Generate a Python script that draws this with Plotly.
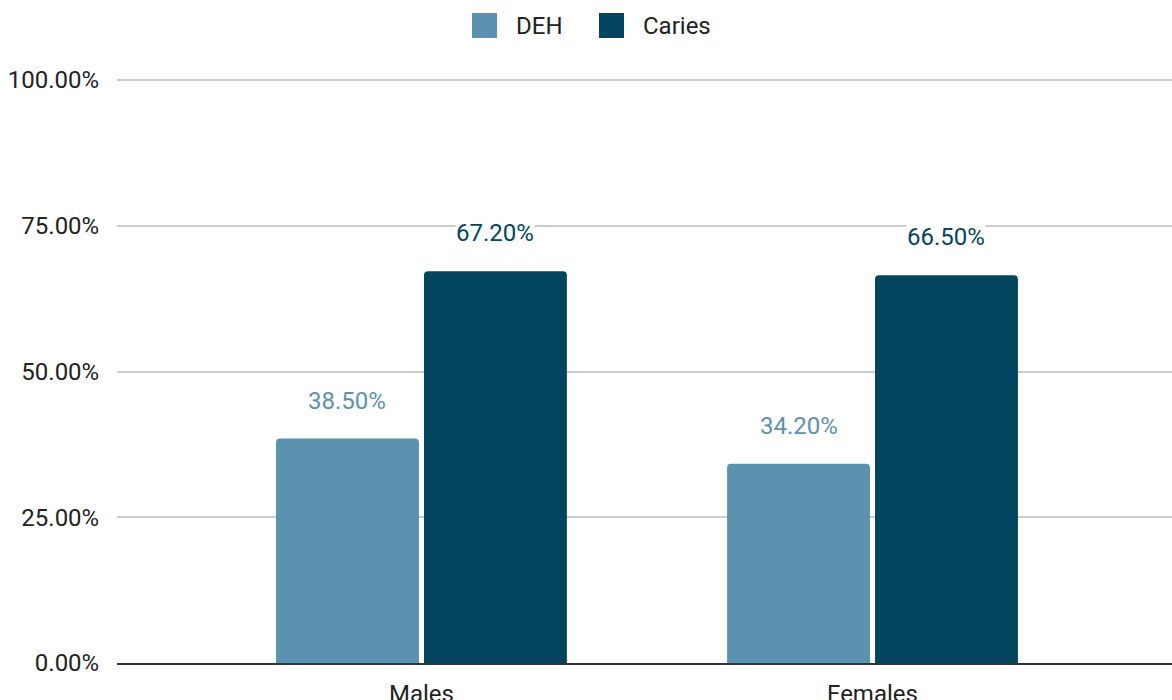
import plotly.graph_objects as go

# Prevalence by sex
groups = ["Males", "Females"]
deh = [0.385, 0.342]
caries = [0.672, 0.665]

series_names = ["DEH", "Caries"]
series_values = [deh, caries]
series_colors = ["#5B92AF", "#03455F"]

fig = go.Figure()
for name, vals, col in zip(series_names, series_values, series_colors):
    fig.add_trace(go.Bar(
        x=groups, y=vals, name=name, marker_color=col,
        marker_line_width=0, showlegend=False,
    ))

# value labels above each bar, with a white box that breaks the gridline
slot = (1 - 0.344) / 2
for k, (vals, col) in enumerate(zip(series_values, series_colors)):
    off = (k - 0.5) * slot
    for i, v in enumerate(vals):
        fig.add_annotation(
            x=i + off, y=v, xref="x", yref="y",
            text=f"{v * 100:.2f}%", showarrow=False,
            yanchor="middle", yshift=38,
            font=dict(size=24, color=col),
            bgcolor="white", borderpad=0,
        )

# legend drawn at the top centre
PLOT_H = 585
legend_x = [472, 599]
for name, col, lx in zip(series_names, series_colors, legend_x):
    fig.add_shape(
        type="rect", xref="paper", yref="paper",
        x0=(lx - 117) / 1055, x1=(lx + 25 - 117) / 1055,
        y0=(663 - 38) / PLOT_H, y1=(663 - 13) / PLOT_H,
        fillcolor=col, line=dict(width=0),
    )
    fig.add_annotation(
        x=(lx + 42 - 117) / 1055, y=(663 - 26) / PLOT_H,
        xref="paper", yref="paper", xanchor="left", yanchor="middle",
        text=name, showarrow=False,
        font=dict(size=24, color="#222222"),
    )

fig.update_layout(
    width=1172, height=700,
    margin=dict(l=117, r=0, t=78, b=37, autoexpand=False),
    paper_bgcolor="white", plot_bgcolor="white",
    font=dict(family="Roboto, Arial, sans-serif", size=24, color="#222222"),
    barmode="group", bargap=0.344, bargroupgap=0.034,
    barcornerradius=4,
    showlegend=False,
)
fig.update_xaxes(
    range=[-0.675, 1.664], showgrid=False,
    showline=True, linecolor="#333333", linewidth=2,
    ticks="outside", ticklen=8, tickcolor="rgba(0,0,0,0)",
    tickfont=dict(size=24, color="#222222"),
    automargin=False,
)
fig.update_yaxes(
    range=[0, 1.0035], tickvals=[0, 0.25, 0.5, 0.75, 1.0], tickformat=".2%",
    showgrid=True, gridcolor="#CCCCCC", gridwidth=2,
    zeroline=False, showline=False,
    ticks="outside", ticklen=12, tickcolor="rgba(0,0,0,0)",
    tickfont=dict(size=24, color="#222222"),
    automargin=False,
)

fig.write_html("out.html")
